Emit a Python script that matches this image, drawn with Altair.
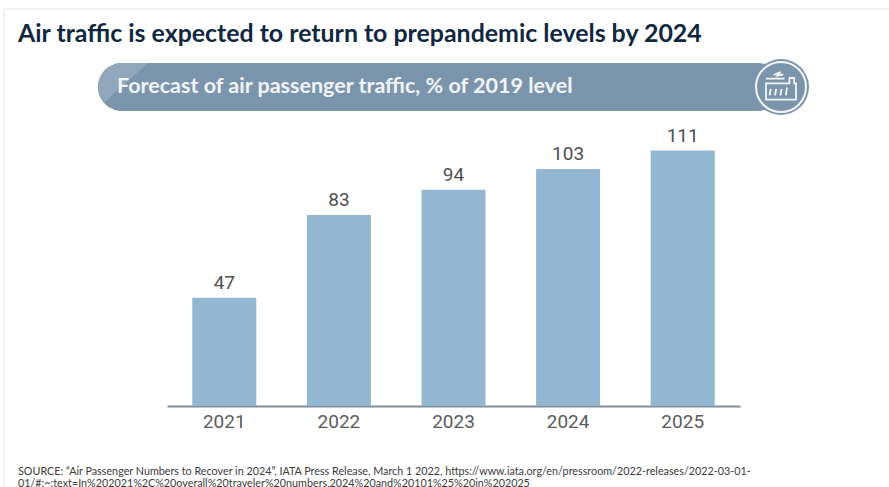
import altair as alt
import pandas as pd

years = ["2021", "2022", "2023", "2024", "2025"]
traffic = [47, 83, 94, 103, 111]

headline = ["Air traffic is expected to return to prepandemic levels by 2024"]
subhead = ["Forecast of air passenger traffic, % of 2019 level"]
source_lines = [
    "SOURCE: \u201cAir Passenger Numbers to Recover in 2024\u201d, IATA Press Release, March 1 2022, https://www.iata.org/en/pressroom/2022-releases/2022-03-01-",
    "01/#:~:text=In%202021%2C%20overall%20traveler%20numbers,2024%20and%20101%25%20in%202025",
]

NAVY = "#10283f"
SLATE = "#7b95ad"
BAR = "#93b6d1"
FONT = "Lato"
ICON_INK = "#f4f6f8"

# Outlines of the plane, the factory and the bar sheen, in symbol units
ICON_PLANE = "M-0.5,-0.28 L0.12,-0.28 M-0.25,-0.4 L-0.02,-0.5 L-0.12,-0.38 L0.08,-0.42"
ICON_FACTORY = (
    "M-0.5,-0.12 L0.28,-0.12 L0.28,-0.3 L0.44,-0.3 L0.44,-0.12 L0.5,-0.12 L0.5,0.42 L-0.5,0.42 Z "
    "M-0.38,0.28 L-0.34,0.06 M-0.2,0.28 L-0.16,0.06 M-0.02,0.28 L0.02,0.06 M0.16,0.28 L0.2,0.02"
)
SHEEN = "M1.08,-1 L0,-1 A1,1 0 0 0 -1,0 A1,1 0 0 0 -0.75,0.66 Z"

df = pd.DataFrame({"year": years, "traffic": traffic})
base = alt.Chart(df)

x_axis = alt.X(
    "year:N",
    sort=years,
    title=None,
    scale=alt.Scale(paddingInner=0.44, paddingOuter=0.22),
    axis=alt.Axis(
        labelAngle=0,
        labelFont="Roboto",
        labelFontSize=19,
        labelColor="#5c5c5c",
        labelPadding=6,
        ticks=False,
        domainColor="#7f8c99",
        domainWidth=2,
        grid=False,
    ),
)
y_axis = alt.Y("traffic:Q", axis=None, scale=alt.Scale(domain=[0, 133], nice=False))

bars = base.mark_bar(color=BAR, width=64).encode(x=x_axis, y=y_axis)
values = base.mark_text(
    font="Roboto", fontSize=19, color="#505050", baseline="bottom", dy=-5
).encode(x=x_axis, y=y_axis, text="traffic:Q")


def single(text):
    return alt.Chart(pd.DataFrame({"text": [text]}))


# Header elements sit in the padding above the plot area, so y is negative
title_mark = single(headline[0]).mark_text(
    font=FONT, fontSize=24.9, fontWeight="bold", color=NAVY, align="left", baseline="middle"
).encode(x=alt.value(-149), y=alt.value(-65), text="text:N")

banner = single("banner").mark_bar(color=SLATE, cornerRadius=24).encode(
    x=alt.value(-69), x2=alt.value(615), y=alt.value(-37), y2=alt.value(11)
)
sheen = single("sheen").mark_point(
    shape=SHEEN, size=2304, filled=True, color="#90a7bc", opacity=1
).encode(x=alt.value(-45), y=alt.value(-13))
subhead_mark = single(subhead[0]).mark_text(
    font=FONT, fontSize=21.5, fontWeight="bold", color="#f2f5f8", align="left", baseline="middle"
).encode(x=alt.value(-50), y=alt.value(-13), text="text:N")

BADGE_X, BADGE_Y = 614, -13
badge = single("badge").mark_point(
    shape="circle", size=3136, filled=True, color=SLATE, opacity=1
).encode(x=alt.value(BADGE_X), y=alt.value(BADGE_Y))
ring = single("ring").mark_point(
    shape="circle", size=2500, filled=False, color=ICON_INK, strokeWidth=2, opacity=1
).encode(x=alt.value(BADGE_X), y=alt.value(BADGE_Y))
plane = single("plane").mark_point(
    shape=ICON_PLANE, size=3600, filled=False, color=ICON_INK, strokeWidth=1.8, opacity=1
).encode(x=alt.value(BADGE_X), y=alt.value(BADGE_Y))
factory = single("factory").mark_point(
    shape=ICON_FACTORY, size=3600, filled=False, color=ICON_INK, strokeWidth=1.8, opacity=1
).encode(x=alt.value(BADGE_X), y=alt.value(BADGE_Y))

notes = alt.Chart(pd.DataFrame({"line": source_lines, "row": [0, 1]})).mark_text(
    font=FONT, fontSize=10.77, color="#3a3a3a", align="left", baseline="middle"
).encode(
    x=alt.value(-149),
    y=alt.Y("row:Q", axis=None, scale=alt.Scale(domain=[0, 1], range=[371.5, 384])),
    text="line:N",
)

# Faint page edge along the top and left
edge_top = single("top").mark_rule(color="#eeeeee", strokeWidth=1.5).encode(
    x=alt.value(-163), x2=alt.value(722), y=alt.value(-91)
)
edge_left = single("left").mark_rule(color="#eeeeee", strokeWidth=1.5).encode(
    x=alt.value(-163), y=alt.value(-91), y2=alt.value(387)
)

chart = (
    alt.layer(
        edge_top, edge_left, title_mark, banner, sheen, badge, ring, plane, factory,
        subhead_mark, bars, values, notes,
    )
    .resolve_scale(y="independent")
    .properties(
        width=573,
        height=306,
        padding={"left": 167, "top": 100, "right": 149, "bottom": 81},
        autosize=alt.AutoSizeParams(type="none"),
        background="#ffffff",
    )
    .configure_view(stroke=None)
)

chart.save("out.html", embed_options={"renderer": "svg", "actions": False})
